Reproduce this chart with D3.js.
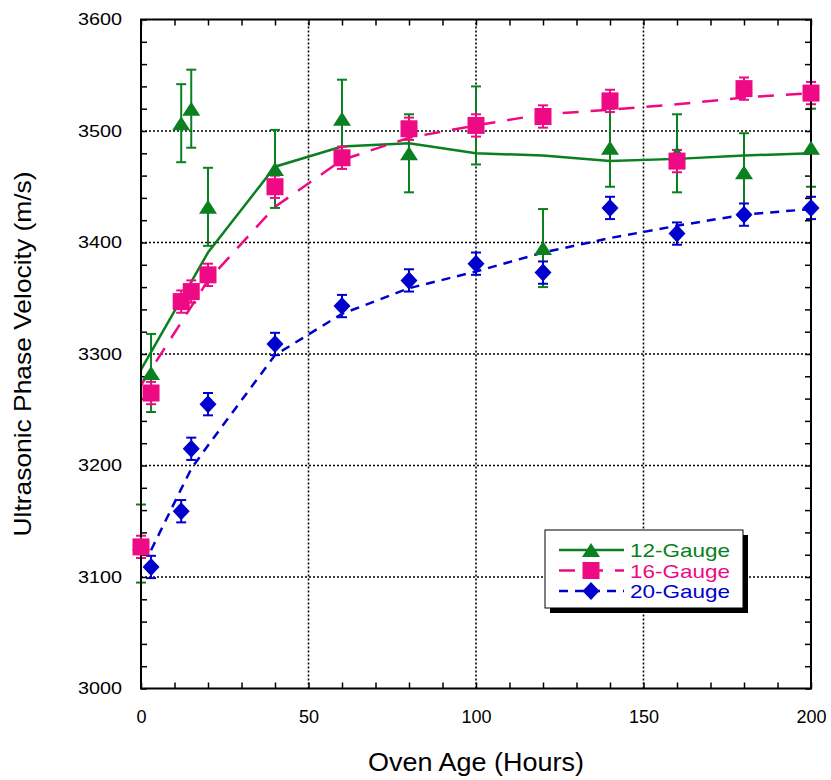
<!DOCTYPE html>
<html>
<head>
<meta charset="utf-8">
<script src="https://cdn.jsdelivr.net/npm/d3@7"></script>
<style>
  body { margin: 0; background: #fff; }
  svg { display: block; font-family: "Liberation Sans", Arial, sans-serif; }
</style>
</head>
<body>
<div id="chart"></div>
<script>
// measured points (Oven Age in hours, velocity in m/s)
const hours = [0, 3, 12, 15, 20, 40, 60, 80, 100, 120, 140, 160, 180, 200];
const hours20 = [3, 12, 15, 20, 40, 60, 80, 100, 120, 140, 160, 180, 200];

const gauge12 = [3130, 3283, 3507, 3520, 3432, 3466, 3511, 3480, 3505, 3395, 3485, 3480, 3463, 3485];
const gauge16 = [3127, 3265, 3347, 3356, 3371, 3450, 3476, 3502, 3505, 3513, 3527, 3473, 3538, 3534];
const gauge20 = [3109, 3159, 3215, 3255, 3309, 3343, 3366, 3381, 3373, 3431, 3408, 3425, 3431];

const err12 = 35, err16 = 10, err20 = 10;

// fitted curves
const fitHours = [0, 20, 40, 60, 80, 100, 120, 140, 160, 180, 200];
const fit12 = [3286, 3391, 3468, 3486, 3489, 3480, 3478, 3473, 3475, 3478, 3480];
const fit16 = [3272, 3366, 3432, 3474, 3494, 3505, 3515, 3519, 3524, 3530, 3534];
const fit20 = [3124, 3179, 3197, 3218, 3299, 3336, 3359, 3374, 3391, 3404, 3415, 3425, 3430];

const xTicks = d3.range(0, 201, 10);
const yTicks = d3.range(3000, 3601, 20);

const W = 831, H = 780;
const svg = d3.select("#chart").append("svg")
    .attr("width", W)
    .attr("height", H);

const x = d3.scaleLinear().domain([0, 200]).range([141, 811]);
const y = d3.scaleLinear().domain([3000, 3600]).range([688.5, 19.5]);

// dotted grid
const grid = svg.append("g")
    .attr("stroke", "#000")
    .attr("stroke-width", 1.6)
    .attr("stroke-dasharray", "2,2");
[50, 100, 150].forEach(v => {
    grid.append("line").attr("x1", x(v)).attr("x2", x(v)).attr("y1", y(3000)).attr("y2", y(3600));
});
[3100, 3200, 3300, 3400, 3500].forEach(v => {
    grid.append("line").attr("x1", x(0)).attr("x2", x(200)).attr("y1", y(v)).attr("y2", y(v));
});

const series = [
    { name: "12-Gauge", color: "#0a8020", xs: hours, ys: gauge12, err: err12, fx: fitHours, fy: fit12, dash: null, shape: "triangle" },
    { name: "16-Gauge", color: "#ee0a84", xs: hours, ys: gauge16, err: err16, fx: fitHours, fy: fit16, dash: "16,12", shape: "square" },
    { name: "20-Gauge", color: "#0000cc", xs: hours20, ys: gauge20, err: err20, fx: hours20, fy: fit20, dash: "9,7", shape: "diamond" }
];

function marker(sel, shape, color) {
    if (shape === "triangle") {
        sel.append("path").attr("d", "M0,-7L9,7L-9,7Z").attr("fill", color);
    } else if (shape === "square") {
        sel.append("rect").attr("x", -8.5).attr("y", -8.5).attr("width", 17).attr("height", 17).attr("fill", color);
    } else {
        sel.append("path").attr("d", "M0,-9L8.5,0L0,9L-8.5,0Z").attr("fill", color);
    }
}

const line = d3.line().x(d => x(d[0])).y(d => y(d[1]));

// fit lines + error bars go under the frame
const groups = series.map(s => {
    const g = svg.append("g");
    const pts = s.xs.map((h, i) => [h, s.ys[i]]);

    g.append("path")
        .datum(s.fx.map((h, i) => [h, s.fy[i]]))
        .attr("d", line)
        .attr("fill", "none")
        .attr("stroke", s.color)
        .attr("stroke-width", 2.5)
        .attr("stroke-dasharray", s.dash);

    const eb = g.append("g").attr("stroke", s.color).attr("stroke-width", 2);
    pts.forEach(p => {
        eb.append("line").attr("x1", x(p[0])).attr("x2", x(p[0]))
            .attr("y1", y(p[1] - s.err)).attr("y2", y(p[1] + s.err));
        [p[1] - s.err, p[1] + s.err].forEach(v => {
            eb.append("line").attr("x1", x(p[0]) - 5).attr("x2", x(p[0]) + 5)
                .attr("y1", y(v)).attr("y2", y(v));
        });
    });
    return pts;
});

// axes, ticks pointing inward
const bottom = svg.append("g").attr("transform", `translate(0,${y(3000)})`)
    .call(d3.axisBottom(x).tickValues(xTicks).tickSize(-6).tickPadding(22)
        .tickFormat(d => d % 50 === 0 ? d : ""));
svg.append("g").attr("transform", `translate(0,${y(3600)})`)
    .call(d3.axisTop(x).tickValues(xTicks).tickSize(-6).tickFormat(""));
const left = svg.append("g").attr("transform", `translate(${x(0)},0)`)
    .call(d3.axisLeft(y).tickValues(yTicks).tickSize(-6).tickPadding(19)
        .tickFormat(d => d % 100 === 0 ? d : ""));
svg.append("g").attr("transform", `translate(${x(200)},0)`)
    .call(d3.axisRight(y).tickValues(yTicks).tickSize(-6).tickFormat(""));

svg.selectAll(".domain").remove();
svg.selectAll(".tick line").attr("stroke", "#000").attr("stroke-width", 1.5);
bottom.selectAll("text").attr("font-size", 18).attr("fill", "#000")
    .attr("font-family", "Liberation Sans, Arial, sans-serif");
left.selectAll("text").attr("font-size", 17).attr("fill", "#000")
    .attr("font-family", "Liberation Sans, Arial, sans-serif")
    .filter(function () { return this.textContent !== ""; })
    .attr("textLength", 44).attr("lengthAdjust", "spacingAndGlyphs");

// frame
svg.append("rect")
    .attr("x", x(0)).attr("y", y(3600))
    .attr("width", x(200) - x(0)).attr("height", y(3000) - y(3600))
    .attr("fill", "none").attr("stroke", "#000").attr("stroke-width", 2);

// markers on top
series.forEach((s, k) => {
    const g = svg.append("g");
    groups[k].forEach(p => {
        marker(g.append("g").attr("transform", `translate(${x(p[0])},${y(p[1])})`), s.shape, s.color);
    });
});

// axis titles
svg.append("text")
    .attr("x", 476).attr("y", 771)
    .attr("text-anchor", "middle")
    .attr("font-size", 25)
    .attr("textLength", 216).attr("lengthAdjust", "spacingAndGlyphs")
    .text("Oven Age (Hours)");
svg.append("text")
    .attr("transform", "translate(31,354) rotate(-90)")
    .attr("text-anchor", "middle")
    .attr("font-size", 24)
    .attr("textLength", 365).attr("lengthAdjust", "spacingAndGlyphs")
    .text("Ultrasonic Phase Velocity (m/s)");

// legend
const lg = svg.append("g");
lg.append("rect").attr("x", 550).attr("y", 535).attr("width", 198).attr("height", 78).attr("fill", "#000");
lg.append("rect").attr("x", 545).attr("y", 530).attr("width", 198).attr("height", 78)
    .attr("fill", "#fff").attr("stroke", "#000").attr("stroke-width", 1);
series.forEach((s, i) => {
    const yy = 550 + i * 20.5;
    lg.append("line").attr("x1", 559).attr("x2", 624).attr("y1", yy).attr("y2", yy)
        .attr("stroke", s.color).attr("stroke-width", 2.5).attr("stroke-dasharray", s.dash);
    marker(lg.append("g").attr("transform", `translate(591,${yy})`), s.shape, s.color);
    lg.append("text").attr("x", 630).attr("y", yy + 7)
        .attr("font-size", 19).attr("fill", s.color)
        .attr("textLength", 100).attr("lengthAdjust", "spacingAndGlyphs")
        .text(s.name);
});
</script>
</body>
</html>
